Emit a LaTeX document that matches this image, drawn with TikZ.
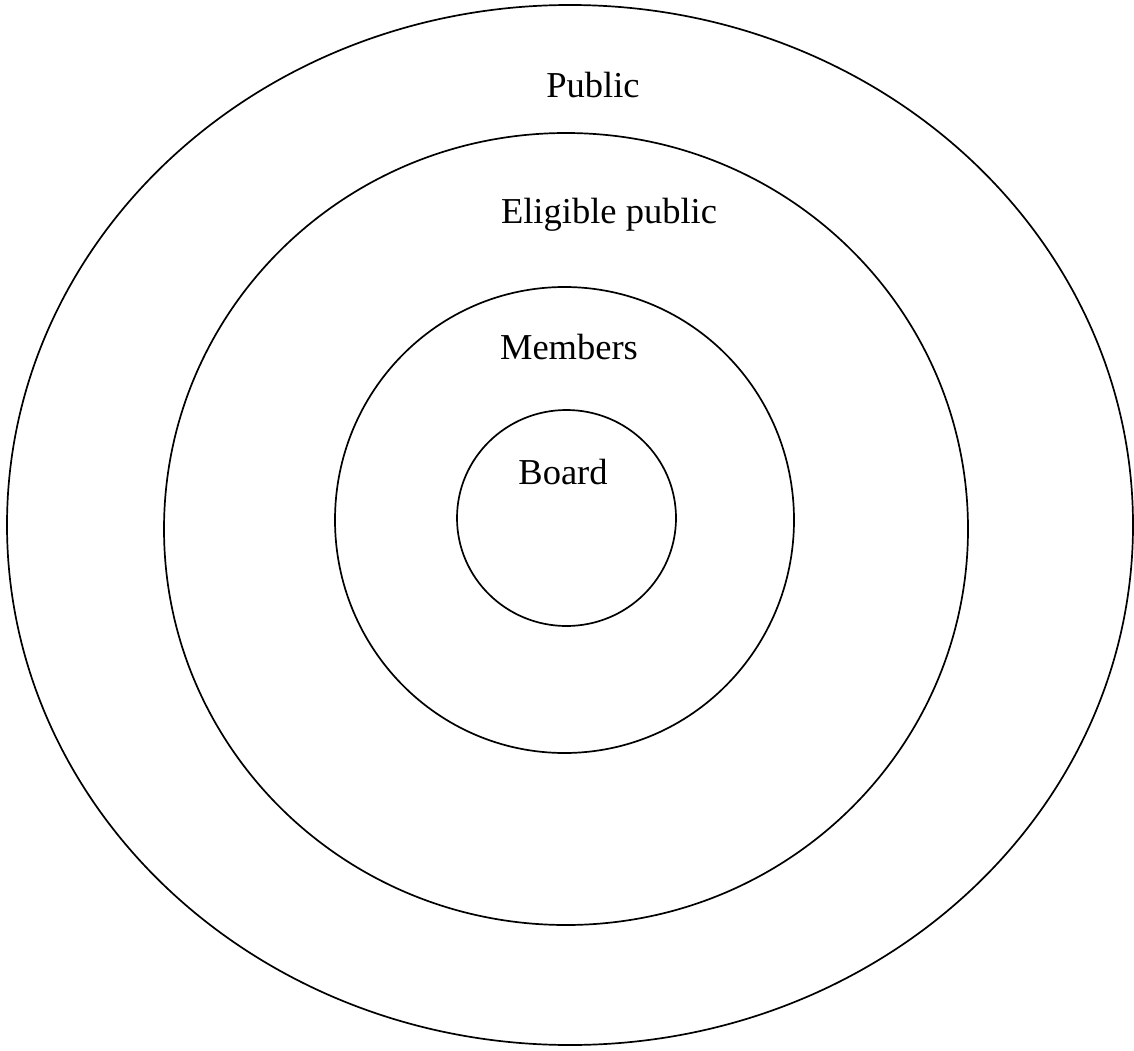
\documentclass[tikz,border=0pt]{standalone}
\usepackage{fontspec}
\setmainfont{Liberation Serif}
\begin{document}
\begin{tikzpicture}[x=1pt,y=-1pt,
  ring/.style={draw=black,line width=1.7pt},
  lbl/.style={font=\fontsize{36.5}{40}\selectfont,inner sep=0pt}]
\useasboundingbox (0,0) rectangle (1134,1051);
\draw[ring] (570,525) ellipse [x radius=563,y radius=520];
\draw[ring] (566,529) ellipse [x radius=402,y radius=396];
\draw[ring] (564.5,520) ellipse [x radius=229.5,y radius=233];
\draw[ring] (566.5,518) ellipse [x radius=109.5,y radius=108];
\node[lbl] (public) at (593,85) {Public};
\node[lbl] (eligible) at (609,215) {Eligible public};
\node[lbl] (members) at (569,347) {Members};
\node[lbl] (board) at (563,472) {Board};
\end{tikzpicture}
\end{document}
